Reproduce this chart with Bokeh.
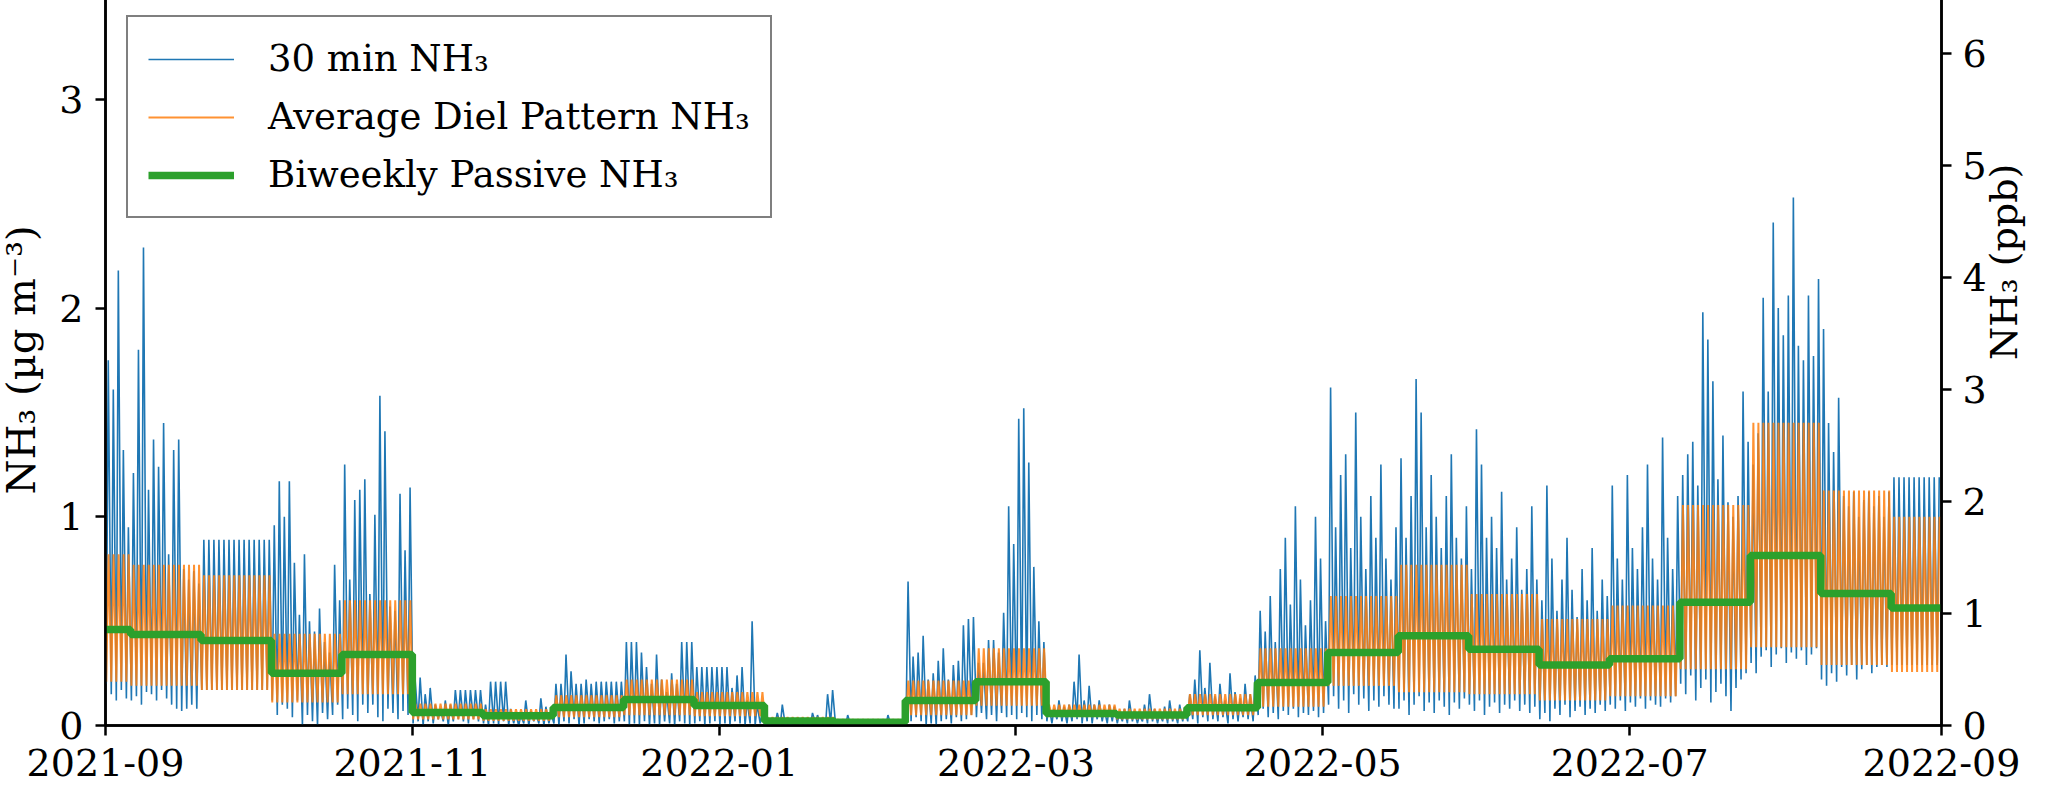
import numpy as np
from bokeh.plotting import figure
from bokeh.models import (Range1d, LinearAxis, SingleIntervalTicker, MonthsTicker,
                          DatetimeTickFormatter, Legend, LegendItem)
from bokeh.embed import file_html
from bokeh.resources import INLINE

# ---------------- data ----------------
# biweekly passive sampler periods (edges)
period_edges = ["2021-09-01", "2021-09-06", "2021-09-20", "2021-10-04", "2021-10-18",
                "2021-11-01", "2021-11-15", "2021-11-29", "2021-12-13", "2021-12-27",
                "2022-01-10", "2022-01-24", "2022-02-07", "2022-02-21", "2022-03-07",
                "2022-03-21", "2022-04-04", "2022-04-18", "2022-05-02", "2022-05-16",
                "2022-05-30", "2022-06-13", "2022-06-27", "2022-07-11", "2022-07-25",
                "2022-08-08", "2022-08-22", "2022-09-01"]

# Biweekly passive NH3 (ug m-3)
passive = [0.46, 0.436, 0.407, 0.25, 0.34, 0.062, 0.047, 0.086, 0.125, 0.096,
           0.022, 0.015, 0.12, 0.21, 0.058, 0.05, 0.085, 0.206, 0.35, 0.43,
           0.365, 0.29, 0.32, 0.59, 0.815, 0.633, 0.563]

# average diel pattern: daily minimum / maximum in each period
diel_min = [0.21, 0.19, 0.17, 0.11, 0.15, 0.03, 0.023, 0.04, 0.05, 0.045,
            0.01, 0.005, 0.05, 0.095, 0.04, 0.03, 0.05, 0.09, 0.19, 0.16,
            0.15, 0.12, 0.14, 0.27, 0.375, 0.29, 0.257]
diel_max = [0.82, 0.77, 0.72, 0.44, 0.60, 0.105, 0.078, 0.145, 0.22, 0.16,
            0.04, 0.03, 0.215, 0.37, 0.10, 0.08, 0.15, 0.37, 0.62, 0.77,
            0.63, 0.51, 0.575, 1.056, 1.45, 1.126, 1.00]

# 30 min NH3: daily peak values, grouped by period
daily_peak = [
    [1.75, 1.61, 2.18, 1.32, 0.95],
    [1.21, 1.80, 2.29, 1.13, 1.37, 1.24, 1.45, 0.82, 1.32, 1.37, 0.75, 0.70, 0.74, 0.68],
    [0.89, 0.89, 0.89, 0.89, 0.89, 0.89, 0.89, 0.89, 0.89, 0.89, 0.89, 0.89, 0.89, 0.89],
    [0.96, 1.17, 1.00, 1.17, 0.78, 0.53, 0.82, 0.50, 0.45, 0.56, 0.40, 0.35, 0.77, 0.60],
    [1.25, 0.70, 1.08, 1.13, 1.18, 0.63, 1.01, 1.58, 1.41, 0.57, 0.55, 1.11, 0.84, 1.14],
    [0.22, 0.23, 0.15, 0.18, 0.10, 0.08, 0.12, 0.10, 0.17, 0.17, 0.17, 0.17, 0.17, 0.17],
    [0.10, 0.21, 0.21, 0.21, 0.21, 0.08, 0.06, 0.05, 0.12, 0.07, 0.06, 0.13, 0.09, 0.06],
    [0.20, 0.20, 0.34, 0.26, 0.20, 0.20, 0.22, 0.20, 0.21, 0.21, 0.21, 0.21, 0.21, 0.21],
    [0.40, 0.40, 0.40, 0.35, 0.28, 0.20, 0.34, 0.22, 0.16, 0.25, 0.20, 0.40, 0.40, 0.40],
    [0.28, 0.28, 0.28, 0.28, 0.28, 0.28, 0.28, 0.18, 0.24, 0.28, 0.12, 0.50, 0.10, 0.06],
    [0.02, 0.03, 0.06, 0.10, 0.02, 0.02, 0.03, 0.02, 0.02, 0.06, 0.05, 0.02, 0.15, 0.17],
    [0.02, 0.02, 0.05, 0.02, 0.01, 0.02, 0.01, 0.02, 0.01, 0.02, 0.05, 0.02, 0.01, 0.02],
    [0.69, 0.33, 0.35, 0.43, 0.22, 0.25, 0.31, 0.37, 0.22, 0.29, 0.31, 0.48, 0.51, 0.52],
    [0.30, 0.30, 0.41, 0.41, 0.35, 0.54, 1.05, 0.87, 1.47, 1.52, 1.26, 0.76, 0.50, 0.40],
    [0.10, 0.08, 0.12, 0.09, 0.10, 0.21, 0.34, 0.12, 0.19, 0.10, 0.12, 0.08, 0.10, 0.09],
    [0.06, 0.08, 0.12, 0.07, 0.05, 0.10, 0.15, 0.08, 0.06, 0.09, 0.12, 0.07, 0.10, 0.08],
    [0.15, 0.22, 0.36, 0.18, 0.30, 0.14, 0.20, 0.12, 0.25, 0.16, 0.13, 0.20, 0.15, 0.24],
    [0.55, 0.45, 0.62, 0.40, 0.75, 0.90, 0.58, 1.05, 0.70, 0.48, 0.60, 1.00, 0.80, 0.50],
    [1.62, 0.95, 1.20, 1.30, 0.85, 1.50, 1.00, 0.75, 1.10, 0.90, 1.25, 0.80, 0.70, 0.95],
    [1.28, 0.90, 1.10, 1.66, 1.50, 0.95, 1.20, 1.00, 0.85, 1.10, 1.30, 0.90, 0.80, 1.05],
    [0.75, 1.42, 1.25, 0.90, 1.00, 0.85, 1.12, 0.70, 0.80, 0.95, 0.65, 0.75, 1.05, 0.70],
    [0.60, 1.15, 0.80, 0.55, 0.70, 0.90, 0.65, 0.52, 0.75, 0.60, 0.85, 0.55, 0.70, 0.62],
    [1.15, 0.80, 0.70, 1.20, 0.85, 0.75, 0.95, 1.25, 0.80, 0.70, 1.38, 0.90, 0.75, 1.10],
    [1.20, 1.30, 1.36, 1.15, 1.98, 1.85, 1.65, 1.18, 1.39, 1.07, 1.00, 1.10, 1.60, 1.36],
    [1.25, 1.40, 2.05, 1.60, 2.41, 2.00, 1.87, 2.06, 2.53, 1.82, 1.75, 2.06, 1.77, 2.14],
    [1.90, 1.45, 1.31, 1.57, 1.10, 1.05, 1.12, 1.00, 1.08, 1.12, 1.05, 1.10, 1.00, 1.12],
    [1.19, 1.19, 1.19, 1.19, 1.19, 1.19, 1.19, 1.19, 1.19, 1.19],
]

# 30 min NH3: daily low values, grouped by period
daily_low = [
    [0.20, 0.15, 0.12, 0.17, 0.13],
    [0.12, 0.14, 0.10, 0.16, 0.15, 0.12, 0.17, 0.13, 0.10, 0.08, 0.07, 0.08, 0.10, 0.08],
    [0.17, 0.17, 0.17, 0.17, 0.17, 0.17, 0.17, 0.17, 0.17, 0.17, 0.17, 0.17, 0.17, 0.17],
    [0.12, 0.05, 0.10, 0.08, 0.04, 0.12, 0.00, 0.05, 0.02, 0.00, 0.06, 0.03, 0.05, 0.10],
    [0.03, 0.08, 0.05, 0.02, 0.10, 0.06, 0.10, 0.04, 0.02, 0.08, 0.06, 0.03, 0.07, 0.05],
    [0.01, 0.02, 0.00, 0.02, 0.01, 0.03, 0.02, 0.00, 0.02, 0.03, 0.02, 0.01, 0.03, 0.02],
    [0.01, 0.00, 0.01, 0.00, 0.02, 0.00, 0.01, 0.00, 0.01, 0.00, 0.02, 0.01, 0.00, 0.01],
    [0.01, 0.00, 0.02, 0.01, 0.03, 0.00, 0.01, 0.03, 0.02, 0.01, 0.02, 0.03, 0.01, 0.02],
    [0.02, 0.00, 0.01, 0.00, 0.02, 0.00, 0.01, 0.00, 0.02, 0.01, 0.00, 0.02, 0.01, 0.00],
    [0.01, 0.02, 0.00, 0.01, 0.02, 0.00, 0.01, 0.00, 0.02, 0.01, 0.00, 0.01, 0.00, 0.01],
    [0.00, 0.00, 0.01, 0.00, 0.00, 0.00, 0.01, 0.00, 0.00, 0.00, 0.01, 0.00, 0.00, 0.01],
    [0.00, 0.00, 0.00, 0.00, 0.00, 0.00, 0.00, 0.00, 0.00, 0.00, 0.00, 0.00, 0.00, 0.00],
    [0.03, 0.02, 0.04, 0.02, 0.00, 0.01, 0.00, 0.02, 0.03, 0.01, 0.04, 0.02, 0.03, 0.05],
    [0.04, 0.06, 0.03, 0.05, 0.02, 0.06, 0.04, 0.05, 0.03, 0.06, 0.04, 0.02, 0.05, 0.03],
    [0.02, 0.01, 0.03, 0.02, 0.01, 0.02, 0.03, 0.01, 0.02, 0.01, 0.03, 0.02, 0.01, 0.02],
    [0.01, 0.02, 0.01, 0.02, 0.01, 0.02, 0.01, 0.02, 0.01, 0.02, 0.01, 0.02, 0.01, 0.02],
    [0.02, 0.03, 0.01, 0.04, 0.02, 0.03, 0.02, 0.04, 0.01, 0.03, 0.02, 0.04, 0.03, 0.02],
    [0.05, 0.08, 0.04, 0.06, 0.03, 0.07, 0.05, 0.08, 0.04, 0.06, 0.05, 0.07, 0.04, 0.06],
    [0.10, 0.14, 0.08, 0.12, 0.06, 0.15, 0.10, 0.13, 0.07, 0.12, 0.09, 0.14, 0.10, 0.08],
    [0.08, 0.12, 0.05, 0.10, 0.14, 0.07, 0.11, 0.06, 0.12, 0.09, 0.05, 0.11, 0.08, 0.13],
    [0.10, 0.07, 0.12, 0.05, 0.09, 0.11, 0.06, 0.10, 0.08, 0.12, 0.07, 0.10, 0.06, 0.09],
    [0.03, 0.06, 0.02, 0.08, 0.05, 0.10, 0.04, 0.07, 0.09, 0.05, 0.08, 0.06, 0.10, 0.07],
    [0.10, 0.08, 0.12, 0.07, 0.11, 0.09, 0.13, 0.08, 0.12, 0.10, 0.09, 0.13, 0.11, 0.14],
    [0.20, 0.15, 0.24, 0.12, 0.18, 0.22, 0.11, 0.16, 0.20, 0.14, 0.07, 0.18, 0.22, 0.25],
    [0.30, 0.25, 0.33, 0.36, 0.28, 0.34, 0.37, 0.30, 0.35, 0.32, 0.36, 0.29, 0.34, 0.37],
    [0.22, 0.19, 0.25, 0.21, 0.28, 0.24, 0.29, 0.22, 0.27, 0.29, 0.25, 0.28, 0.29, 0.28],
    [0.29, 0.29, 0.29, 0.29, 0.29, 0.29, 0.29, 0.29, 0.29, 0.29],
]

label_left = "NH\u2083 (\u00b5g m\u207b\u00b3)"
label_right = "NH\u2083 (ppb)"
legend_labels = ["30 min NH\u2083", "Average Diel Pattern NH\u2083", "Biweekly Passive NH\u2083"]

# ---------------- build series ----------------
edges = np.array(period_edges, dtype="datetime64[m]")
base = edges[0]


def at(day_offset):
    return base + np.round(np.asarray(day_offset) * 1440).astype("timedelta64[m]")


blue_t, blue_v, or_t, or_v = [], [], [], []
day = 0
for i in range(len(passive)):
    n = int((edges[i + 1] - edges[i]) / np.timedelta64(1, "D"))
    for k in range(n):
        d = day + k
        lo = daily_low[i][min(k, len(daily_low[i]) - 1)]
        hi = daily_peak[i][min(k, len(daily_peak[i]) - 1)]
        blue_t += [d + 0.15, d + 0.55]
        blue_v += [lo, hi]
        or_t += [d + 0.15, d + 0.6]
        or_v += [diel_min[i], diel_max[i]]
    day += n

blue_x = at(blue_t)
or_x = at(or_t)
step_x = edges
step_y = passive + [passive[-1]]

# ---------------- figure ----------------
FONT = "DejaVu Serif"
W, H = 2056, 799
BL, BR, BB = 111, 103, 68
frame_h = H - BB                 # 731 px
y_top = frame_h / 208.7          # ug m-3 shown in the frame (~3.5)
ppb_top = frame_h / 112.0        # ppb shown in the frame (~6.53)

p = figure(width=W, height=H, x_axis_type="datetime",
           x_range=Range1d(edges[0], edges[-1]), y_range=Range1d(0, y_top),
           output_backend="svg", toolbar_location=None,
           min_border_left=BL, min_border_right=BR, min_border_top=0, min_border_bottom=BB)
p.margin = (-6, 0, -8, -6)
p.extra_y_ranges = {"ppb": Range1d(0, ppb_top)}

p.xgrid.visible = False
p.ygrid.visible = False
p.outline_line_color = "black"
p.outline_line_width = 2.5
p.background_fill_color = "white"
p.border_fill_color = "white"

r_blue = p.line(blue_x, blue_v, line_color="#1f77b4", line_width=1.6)
r_or = p.line(or_x, or_v, line_color="#ff7f0e", line_width=2.0, line_alpha=0.85)
r_green = p.step(step_x, step_y, mode="after", line_color="#2ca02c", line_width=7.5)


def style_axis(ax):
    ax.axis_line_color = "black"
    ax.axis_line_width = 2.5
    ax.major_tick_line_color = "black"
    ax.major_tick_line_width = 2.5
    ax.major_tick_out = 10
    ax.major_tick_in = 0
    ax.minor_tick_line_color = None
    ax.major_label_text_font = FONT
    ax.major_label_text_font_size = "38px"
    ax.major_label_text_color = "black"
    ax.axis_label_text_font = FONT
    ax.axis_label_text_font_size = "40px"
    ax.axis_label_text_font_style = "normal"
    ax.axis_label_text_color = "black"


xa = p.xaxis[0]
xa.ticker = MonthsTicker(months=[0, 2, 4, 6, 8, 10])
xa.formatter = DatetimeTickFormatter(years="%Y-%m", months="%Y-%m", days="%Y-%m")
style_axis(xa)
xa.axis_label = None
xa.axis_label_standoff = 0
xa.major_label_standoff = 13

ya = p.yaxis[0]
ya.ticker = SingleIntervalTicker(interval=1)
ya.axis_label = label_left
style_axis(ya)
ya.major_label_standoff = 12
ya.axis_label_standoff = 12

yr = LinearAxis(y_range_name="ppb", ticker=SingleIntervalTicker(interval=1))
style_axis(yr)
yr.major_label_standoff = 11
p.add_layout(yr, "right")

# right-hand axis title, reading bottom to top as in the reference
yr.axis_label = label_right
yr.axis_label_text_font_size = "38px"
yr.axis_label_standoff = 14
yr.axis_label_orientation = float(np.pi / 2)

legend = Legend(items=[LegendItem(label=legend_labels[0], renderers=[r_blue]),
                       LegendItem(label=legend_labels[1], renderers=[r_or]),
                       LegendItem(label=legend_labels[2], renderers=[r_green])],
                location="top_left", margin=21, padding=20, spacing=15,
                glyph_width=86, glyph_height=40, label_height=40, label_standoff=34,
                label_text_font=FONT, label_text_font_size="37px", label_text_color="black",
                border_line_color="black", border_line_width=2.5,
                background_fill_color="white", background_fill_alpha=1.0)
p.add_layout(legend)

open("out.html", "w").write(file_html(p, INLINE))
